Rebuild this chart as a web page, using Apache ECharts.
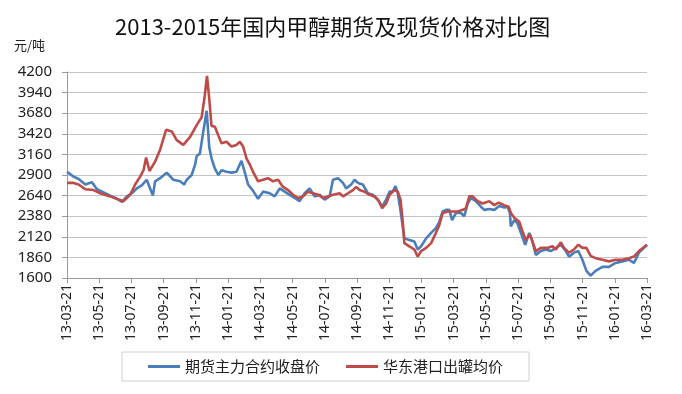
<!DOCTYPE html>
<html><head><meta charset="utf-8">
<script src="https://cdn.jsdelivr.net/npm/echarts@6/dist/echarts.min.js"></script>
<style>html,body{margin:0;padding:0;background:#fff}#c{width:682px;height:394px}</style>
</head><body><div id="c"></div>
<script>
const titleText = '2013-2015年国内甲醇期货及现货价格对比图';
const unitText = '元/吨';
const seriesNames = ['期货主力合约收盘价', '华东港口出罐均价'];
const tickLabels = ['13-03-21','13-05-21','13-07-21','13-09-21','13-11-21','14-01-21','14-03-21','14-05-21','14-07-21','14-09-21','14-11-21','15-01-21','15-03-21','15-05-21','15-07-21','15-09-21','15-11-21','16-01-21','16-03-21'];
// [months since 2013-03-21, price]
const futures = [[0,2940],[0.41,2880],[0.72,2850],[1.14,2780],[1.55,2810],[1.86,2720],[2.27,2680],[2.68,2640],[3.10,2600],[3.41,2560],[3.72,2630],[4.02,2670],[4.33,2730],[4.64,2770],[4.95,2840],[5.16,2730],[5.33,2640],[5.47,2820],[5.78,2860],[6.19,2930],[6.60,2840],[7.02,2820],[7.27,2780],[7.43,2840],[7.74,2900],[7.95,3030],[8.05,3140],[8.25,3170],[8.46,3450],[8.67,3710],[8.83,3250],[8.97,3110],[9.18,2980],[9.39,2900],[9.59,2960],[9.90,2940],[10.21,2930],[10.52,2940],[10.83,3080],[11.04,2930],[11.24,2780],[11.55,2700],[11.86,2600],[12.17,2690],[12.58,2670],[12.89,2630],[13.20,2730],[13.51,2690],[13.82,2650],[14.13,2610],[14.44,2570],[14.75,2670],[15.06,2730],[15.37,2630],[15.68,2650],[15.99,2590],[16.30,2630],[16.51,2840],[16.82,2860],[17.13,2800],[17.33,2730],[17.64,2780],[17.85,2840],[18.06,2800],[18.36,2780],[18.67,2670],[18.98,2650],[19.29,2590],[19.56,2500],[19.81,2590],[20.02,2690],[20.22,2690],[20.39,2760],[20.53,2670],[20.68,2480],[20.80,2460],[20.94,2100],[21.25,2080],[21.56,2060],[21.77,1960],[21.98,2000],[22.29,2100],[22.60,2170],[22.90,2230],[23.11,2310],[23.32,2440],[23.52,2460],[23.73,2460],[23.90,2330],[24.14,2420],[24.45,2420],[24.66,2380],[24.87,2540],[25.07,2610],[25.38,2570],[25.69,2500],[25.90,2460],[26.21,2470],[26.52,2460],[26.83,2510],[27.14,2490],[27.35,2500],[27.49,2420],[27.55,2250],[27.76,2330],[27.96,2290],[28.17,2170],[28.44,2020],[28.69,2170],[28.89,2060],[29.10,1890],[29.41,1940],[29.72,1960],[30.03,1940],[30.34,1980],[30.65,2020],[30.96,1940],[31.16,1870],[31.47,1920],[31.74,1940],[31.99,1830],[32.24,1690],[32.50,1630],[32.81,1690],[33.23,1740],[33.64,1740],[34.05,1790],[34.47,1810],[34.88,1830],[35.19,1790],[35.50,1920],[35.70,1960],[36,2020]];
const spot = [[0,2800],[0.41,2800],[0.72,2780],[1.14,2720],[1.65,2710],[2.06,2670],[2.68,2630],[3.2,2590],[3.51,2570],[3.92,2650],[4.23,2780],[4.54,2880],[4.75,2960],[4.91,3120],[5.12,2950],[5.47,3070],[5.78,3220],[6.15,3470],[6.5,3450],[6.81,3340],[7.22,3280],[7.64,3380],[8.05,3530],[8.36,3630],[8.55,3900],[8.69,4150],[8.83,3860],[8.97,3520],[9.18,3510],[9.39,3400],[9.59,3300],[9.9,3320],[10.21,3260],[10.52,3280],[10.73,3320],[10.93,3260],[11.14,3110],[11.35,3030],[11.55,2940],[11.86,2820],[12.17,2840],[12.48,2860],[12.79,2820],[13.1,2840],[13.41,2750],[13.72,2710],[14.03,2650],[14.34,2610],[14.65,2630],[14.96,2690],[15.27,2670],[15.58,2650],[15.89,2610],[16.2,2630],[16.51,2650],[16.92,2670],[17.13,2630],[17.44,2670],[17.75,2710],[17.95,2750],[18.16,2710],[18.47,2690],[18.78,2650],[19.09,2630],[19.36,2570],[19.56,2480],[19.81,2540],[20.02,2650],[20.33,2710],[20.53,2690],[20.7,2590],[20.84,2310],[20.94,2040],[21.25,2000],[21.56,1960],[21.77,1870],[21.98,1940],[22.29,1980],[22.6,2040],[22.9,2170],[23.11,2270],[23.32,2420],[23.63,2440],[23.94,2440],[24.25,2440],[24.56,2460],[24.76,2480],[24.97,2630],[25.18,2630],[25.49,2570],[25.8,2540],[26.21,2570],[26.52,2520],[26.79,2550],[27.14,2520],[27.41,2500],[27.55,2420],[27.76,2360],[28.07,2310],[28.27,2190],[28.48,2080],[28.73,2150],[28.89,2060],[29.1,1940],[29.41,1980],[29.82,1980],[30.13,2000],[30.34,1960],[30.65,2050],[30.85,1980],[31.16,1920],[31.47,1960],[31.74,2020],[31.99,1980],[32.24,1980],[32.5,1880],[32.81,1850],[33.23,1830],[33.64,1810],[34.05,1830],[34.47,1830],[34.88,1850],[35.19,1870],[35.5,1940],[36,2020]];

const chart = echarts.init(document.getElementById('c'), null, {renderer: 'canvas'});
chart.setOption({
  animation: false,
  backgroundColor: '#fff',
  title: [
    {text: titleText, left: 110, top: 11, textStyle: {fontFamily: 'Noto Sans CJK SC', fontSize: 22, fontWeight: 'normal', color: '#111'}},
    {text: unitText, left: 9, top: 34, textStyle: {fontFamily: 'Noto Sans CJK SC', fontSize: 13, fontWeight: 'normal', color: '#222'}}
  ],
  grid: {left: 67, right: 35, top: 72, bottom: 116, containLabel: false},
  legend: {
    data: seriesNames, left: 122, top: 352, icon: 'rect', itemWidth: 32, itemHeight: 3, itemGap: 26,
    borderColor: '#d0d0d0', borderWidth: 1, padding: [7, 26],
    textStyle: {fontFamily: 'Noto Sans CJK SC', fontSize: 15, color: '#222'}
  },
  xAxis: {
    type: 'value', min: 0, max: 36, interval: 2,
    axisLine: {lineStyle: {color: '#999'}},
    axisTick: {show: true, length: 5, lineStyle: {color: '#999'}},
    splitLine: {show: false},
    axisLabel: {rotate: 90, margin: 6, fontFamily: 'Noto Sans', fontSize: 14, color: '#222',
      formatter: v => tickLabels[Math.round(v / 2)]}
  },
  yAxis: {
    type: 'value', min: 1600, max: 4200, interval: 260,
    axisLine: {show: true, lineStyle: {color: '#999'}},
    axisTick: {show: true, length: 5, lineStyle: {color: '#999'}},
    splitLine: {lineStyle: {color: '#c4c4c4'}},
    axisLabel: {margin: 15, fontFamily: 'Noto Sans', fontSize: 15, color: '#222', formatter: v => String(v)}
  },
  series: [
    {name: seriesNames[0], type: 'line', data: futures, showSymbol: false, color: '#4a7ebb', lineStyle: {width: 2.6, color: '#4a7ebb'}},
    {name: seriesNames[1], type: 'line', data: spot, showSymbol: false, color: '#be4b48', lineStyle: {width: 2.6, color: '#be4b48'}}
  ]
});
</script></body></html>
